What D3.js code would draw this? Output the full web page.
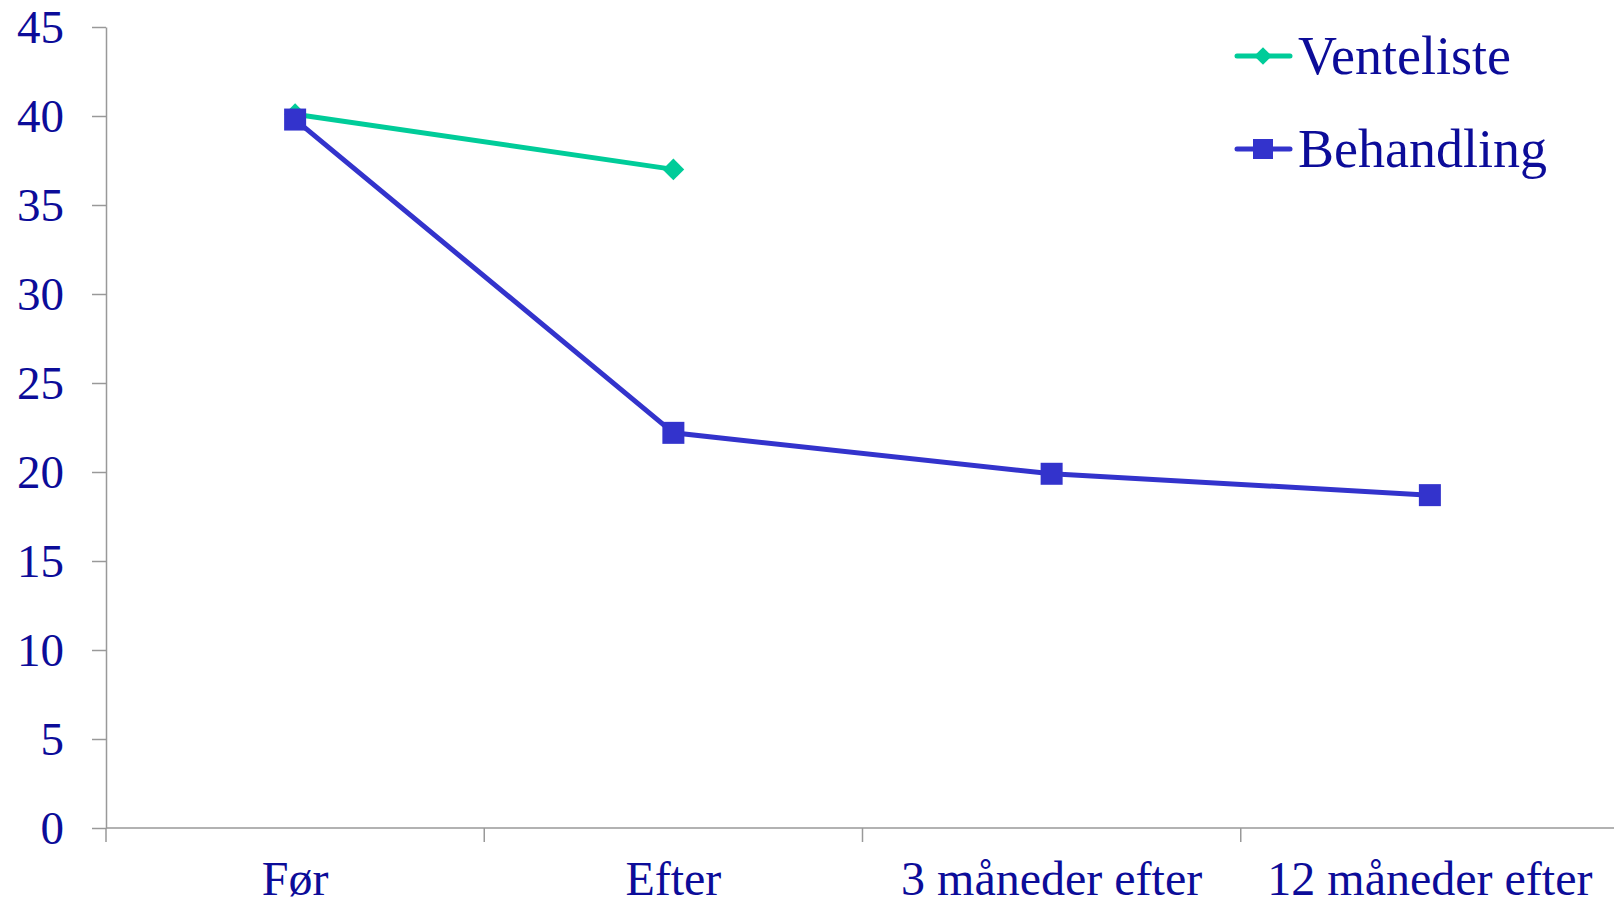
<!DOCTYPE html>
<meta charset="utf-8">
<style>
body { margin: 0; background: #fff; }
svg text { font-family: "Liberation Serif", "Times New Roman", serif; fill: #0c0c99; }
.axis path, .axis line { stroke: #999; stroke-width: 1.5px; }
</style>
<body>
<svg width="1614" height="906"></svg>
<script src="https://d3js.org/d3.v7.min.js"></script>
<script>
// categories and series
var categories = ["Før", "Efter", "3 måneder efter", "12 måneder efter"];
var venteliste = [40.1, 37.0];
var behandling = [39.8, 22.2, 19.9, 18.7];
var yTicks = [0, 5, 10, 15, 20, 25, 30, 35, 40, 45];
var seriesNames = ["Venteliste", "Behandling"];

var svg = d3.select("svg"),
    margin = {top: 27, right: -5, bottom: 78, left: 106},
    width = +svg.attr("width") - margin.left - margin.right,
    height = +svg.attr("height") - margin.top - margin.bottom;

var x = d3.scaleBand().domain(categories).range([0, width]),
    y = d3.scaleLinear().domain([0, 45]).range([height, 0]);

var g = svg.append("g")
    .attr("transform", "translate(" + margin.left + "," + margin.top + ")");

// y axis
var yAxis = g.append("g")
    .attr("class", "axis")
    .call(d3.axisLeft(y).tickValues(yTicks).tickSize(14).tickSizeOuter(0).tickPadding(28));
yAxis.selectAll("text")
    .style("font-size", "47px")
    .attr("fill", null);

// x axis with ticks between categories
var xAxis = g.append("g")
    .attr("class", "axis")
    .attr("transform", "translate(0," + height + ")");
xAxis.append("line")
    .attr("x1", 0).attr("x2", width)
    .attr("y1", 0).attr("y2", 0);
xAxis.selectAll(".sep")
    .data(categories)
  .enter().append("line")
    .attr("x1", function(d) { return x(d); })
    .attr("x2", function(d) { return x(d); })
    .attr("y1", 0).attr("y2", 14);
xAxis.selectAll(".lbl")
    .data(categories)
  .enter().append("text")
    .attr("x", function(d) { return x(d) + x.bandwidth() / 2; })
    .attr("y", 67)
    .attr("text-anchor", "middle")
    .style("font-size", "48px")
    .text(function(d) { return d; });

var line = d3.line()
    .x(function(d, i) { return x(categories[i]) + x.bandwidth() / 2; })
    .y(function(d) { return y(d); });

var colV = "#00cc99", colB = "#3333cc";

g.append("path").datum(venteliste)
    .attr("d", line).attr("fill", "none")
    .attr("stroke", colV).attr("stroke-width", 5);
g.append("path").datum(behandling)
    .attr("d", line).attr("fill", "none")
    .attr("stroke", colB).attr("stroke-width", 5);

var diamond = d3.symbol().type(d3.symbolDiamond2).size(300);
g.selectAll(".dv").data(venteliste).enter().append("path")
    .attr("d", diamond)
    .attr("transform", function(d, i) { return "translate(" + (x(categories[i]) + x.bandwidth() / 2) + "," + y(d) + ")"; })
    .attr("fill", colV);

g.selectAll(".sb").data(behandling).enter().append("rect")
    .attr("x", function(d, i) { return x(categories[i]) + x.bandwidth() / 2 - 11; })
    .attr("y", function(d) { return y(d) - 11; })
    .attr("width", 22).attr("height", 22)
    .attr("fill", colB);

// legend
var legend = svg.append("g").attr("transform", "translate(1237,0)");
var legY = [56, 149];
seriesNames.forEach(function(name, i) {
  var c = i === 0 ? colV : colB;
  var lg = legend.append("g").attr("transform", "translate(0," + legY[i] + ")");
  lg.append("line").attr("x1", 0).attr("x2", 53).attr("y1", 0).attr("y2", 0)
    .attr("stroke", c).attr("stroke-width", 5).attr("stroke-linecap", "round");
  if (i === 0) {
    lg.append("path").attr("d", d3.symbol().type(d3.symbolDiamond2).size(200))
      .attr("transform", "translate(26,0)").attr("fill", c);
  } else {
    lg.append("rect").attr("x", 16).attr("y", -10).attr("width", 20).attr("height", 20).attr("fill", c);
  }
  lg.append("text").attr("x", 61).attr("y", 18).style("font-size", "54px").text(name);
});
</script>
</body>
